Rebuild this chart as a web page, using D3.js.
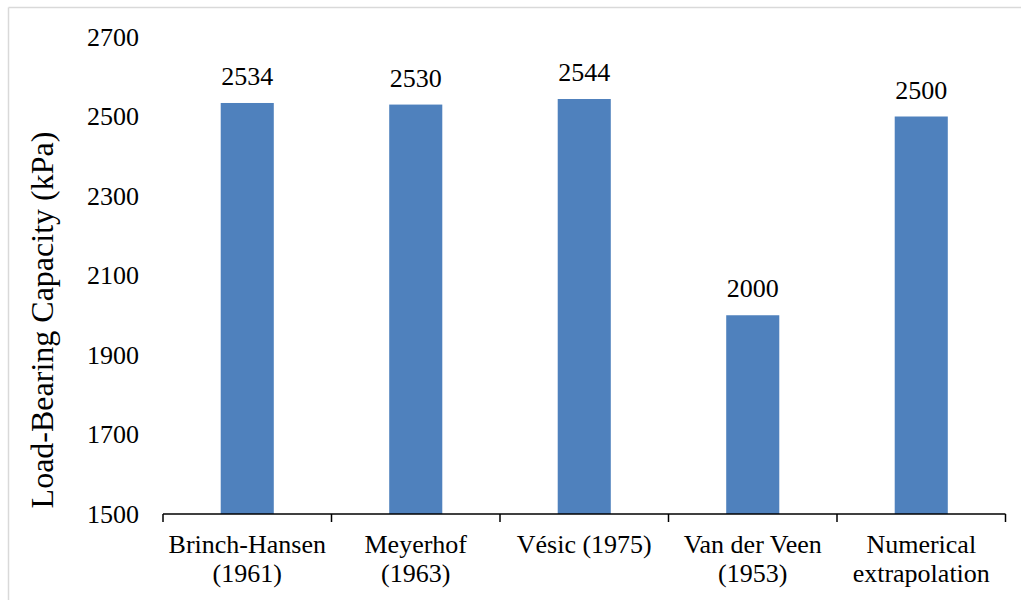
<!DOCTYPE html>
<html>
<head>
<meta charset="utf-8">
<script src="https://cdn.jsdelivr.net/npm/d3@7/dist/d3.min.js"></script>
<style>
html, body { margin: 0; padding: 0; background: #fff; }
svg { display: block; }
text { font-family: "Liberation Serif", "Times New Roman", serif; fill: #000; }
</style>
</head>
<body>
<svg id="chart" width="1021" height="600"></svg>
<script>
const categories = [
  ["Brinch-Hansen", "(1961)"],
  ["Meyerhof", "(1963)"],
  ["Vésic (1975)"],
  ["Van der Veen", "(1953)"],
  ["Numerical", "extrapolation"]
];
const values = [2534, 2530, 2544, 2000, 2500];
const yTicks = [1500, 1700, 1900, 2100, 2300, 2500, 2700];
const yTitle = "Load-Bearing Capacity (kPa)";

(function () {
const svg = d3.select("#chart");
const W = 1021, H = 600;
const mLeft = 163, mRight = 1005.5, mTop = 37, mBottom = 514;

// light frame
svg.append("line").attr("x1", 8.5).attr("x2", 8.5).attr("y1", 7.5).attr("y2", H)
  .attr("stroke", "#d9d9d9").attr("stroke-width", 1.5);
svg.append("line").attr("x1", 8.5).attr("x2", W).attr("y1", 7.5).attr("y2", 7.5)
  .attr("stroke", "#d9d9d9").attr("stroke-width", 1.5);

const keys = categories.map(c => c.join(" "));
const x = d3.scaleBand().domain(keys).range([mLeft, mRight])
  .paddingInner(0.685).paddingOuter(0.3425);
const y = d3.scaleLinear().domain([1500, 2700]).range([mBottom, mTop]);

// bars
svg.append("g").selectAll("rect").data(values).join("rect")
  .attr("x", (d, i) => x(keys[i]))
  .attr("width", x.bandwidth())
  .attr("y", d => y(d))
  .attr("height", d => y(1500) - y(d))
  .attr("fill", "#4f81bd");

// value labels
svg.append("g").selectAll("text").data(values).join("text")
  .attr("x", (d, i) => x(keys[i]) + x.bandwidth() / 2)
  .attr("y", d => y(d) - 18)
  .attr("text-anchor", "middle")
  .attr("font-size", 26)
  .text(d => d);

// y axis labels (no axis line)
const yAxis = d3.axisLeft(y).tickValues(yTicks).tickSize(0).tickPadding(24).tickFormat(d3.format("d"));
const gy = svg.append("g").attr("transform", `translate(${mLeft},0)`).call(yAxis);
gy.select(".domain").remove();
gy.selectAll("text").attr("font-size", 26).attr("font-family", "Liberation Serif, serif").attr("fill", "#000");

// x axis
const step = x.step();
const boundaries = d3.range(keys.length + 1).map(i => mLeft + i * step);
svg.append("line").attr("x1", mLeft).attr("x2", mRight).attr("y1", mBottom).attr("y2", mBottom)
  .attr("stroke", "#000").attr("stroke-width", 1.5);
svg.append("g").selectAll("line").data(boundaries).join("line")
  .attr("x1", d => d).attr("x2", d => d).attr("y1", mBottom).attr("y2", mBottom + 8)
  .attr("stroke", "#000").attr("stroke-width", 1.5);

const xl = svg.append("g").selectAll("text").data(categories).join("text")
  .attr("x", (d, i) => x(keys[i]) + x.bandwidth() / 2)
  .attr("y", 553)
  .attr("text-anchor", "middle")
  .attr("font-size", 26);
xl.each(function(d) {
  const t = d3.select(this);
  const cx = t.attr("x");
  d.forEach((line, j) => {
    t.append("tspan").attr("x", cx).attr("dy", j === 0 ? 0 : 29).text(line);
  });
});

// y title
svg.append("text")
  .attr("transform", `translate(53,320) rotate(-90)`)
  .attr("text-anchor", "middle")
  .attr("font-size", 32)
  .text(yTitle);
})();
</script>
</body>
</html>
